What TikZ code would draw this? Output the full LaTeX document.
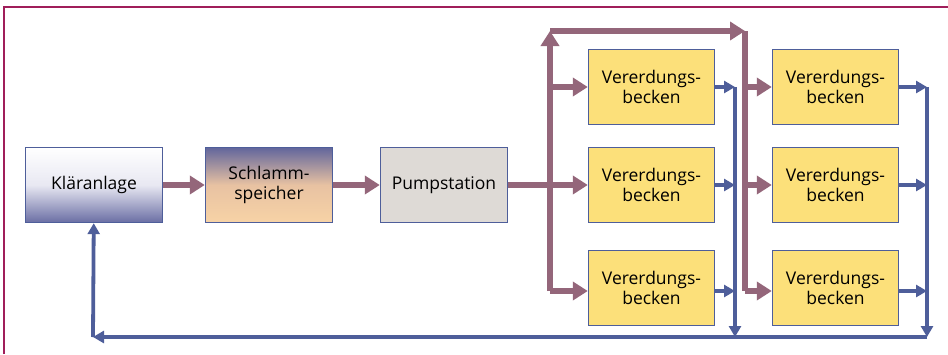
\documentclass[tikz,border=0pt]{standalone}
\usepackage{fontspec}
\usepackage{xcolor}
\usetikzlibrary{arrows.meta}
\newfontfamily\boxfont{Open Sans}

\definecolor{rahmen}{RGB}{160,30,90}
\definecolor{schlamm}{RGB}{148,102,122}
\definecolor{wasser}{RGB}{78,94,154}
\definecolor{becken}{RGB}{252,224,122}
\definecolor{pumpe}{RGB}{222,218,214}

\begin{document}
\begin{tikzpicture}[x=1pt,y=-1pt,
    box/.style={rectangle, draw=wasser, line width=1.4pt, minimum width=126pt, minimum height=75pt,
                align=center, inner sep=2pt, font=\boxfont\fontsize{17.5}{20}\selectfont},
    becken box/.style={box, fill=becken},
    flow/.style={draw=schlamm, line width=6pt, -{Triangle[length=15pt,width=18pt]}},
    back/.style={draw=wasser, line width=3.8pt, -{Triangle[length=11pt,width=12pt]}}]

                \useasboundingbox (0,0) rectangle (948,354);
                \draw[rahmen, line width=2pt] (4,354) -- (4,7) -- (948,7);

                \node[box, minimum width=137pt, top color=white, bottom color={rgb,255:red,106;green,110;blue,164},
                      middle color={rgb,255:red,232;green,232;blue,242}] (klaer) at (94,185) {Kläranlage};
                \node[box, minimum width=127pt, top color={rgb,255:red,98;green,102;blue,156},
                      bottom color={rgb,255:red,247;green,211;blue,166}, middle color={rgb,255:red,232;green,194;blue,162}]
                      (speicher) at (269,185) {Schlamm-\\speicher};
                \node[box, minimum width=127pt, fill=pumpe] (pump) at (444,185) {Pumpstation};

                \node[becken box] (b11) at (651.5,87) {Vererdungs-\\becken};
                \node[becken box] (b12) at (651.5,185) {Vererdungs-\\becken};
                \node[becken box] (b13) at (651.5,288) {Vererdungs-\\becken};
                \node[becken box] (b21) at (835.5,87) {Vererdungs-\\becken};
                \node[becken box] (b22) at (835.5,185) {Vererdungs-\\becken};
                \node[becken box] (b23) at (835.5,288) {Vererdungs-\\becken};

                % verteiler
                \coordinate (t1u) at (550,291);
                \coordinate (t1o) at (550,31);
                \coordinate (t2o) at (745,31);
                \coordinate (t2u) at (745,291);
                % ablauf
                \coordinate (a1o) at (735,87);
                \coordinate (a1u) at (735,337);
                \coordinate (a2o) at (927,87);
                \coordinate (a2u) at (927,337);
                \coordinate (ru) at (93,337);

                \draw[flow] (klaer) -- (speicher);
                \draw[flow] (speicher) -- (pump);
                \draw[flow] (pump) -- (b12);
                \draw[flow] (t1u) -- (t1o);
                \draw[flow] (t1o) -- (t2o);
                \draw[flow, -] (t2o) -- (t2u);
                \draw[flow] (t1u) -- (b13.west |- t1u);
                \draw[flow] (t1o |- b11.west) -- (b11);
                \draw[flow] (t2u) -- (b23.west |- t2u);
                \draw[flow] (t2o |- b21.west) -- (b21);
                \draw[flow] (t2o |- b22.west) -- (b22);

                \draw[back] (b11) -- (a1o);
                \draw[back] (b12) -- (b12.east -| a1o);
                \draw[back] (b13.east |- t1u) -- (a1o |- t1u);
                \draw[back] (b21) -- (a2o);
                \draw[back] (b22) -- (b22.east -| a2o);
                \draw[back] (b23.east |- t2u) -- (a2o |- t2u);
                \draw[back] (a1o) -- (a1u);
                \draw[back] (a2o) -- (a2u);
                \draw[back] (a2u) -- (ru);
                \draw[back] (ru) -- (klaer);
            \end{tikzpicture}
\end{document}
